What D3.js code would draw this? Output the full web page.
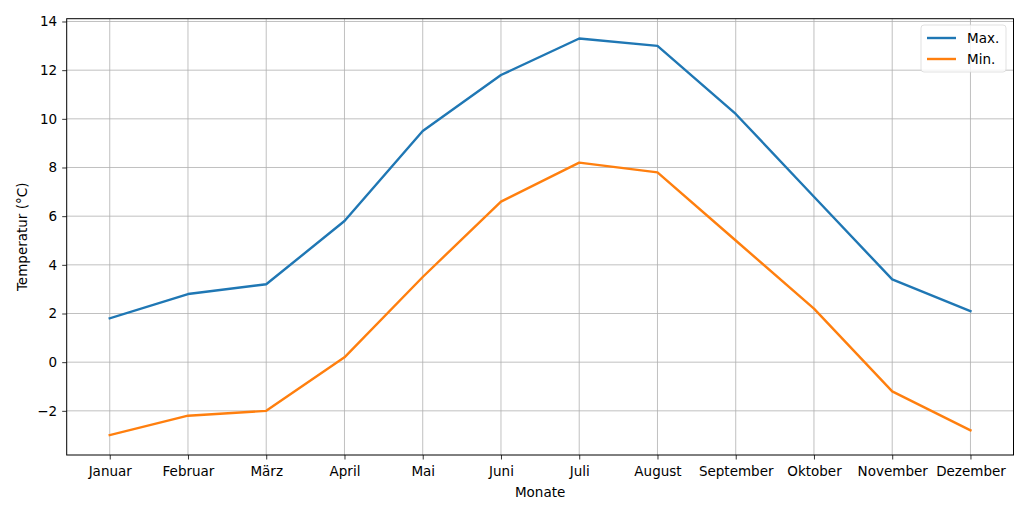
<!DOCTYPE html>
<html>
<head>
<meta charset="utf-8">
<script src="https://cdn.jsdelivr.net/npm/d3@7"></script>
<style>
  body { margin: 0; background: #fff; }
  text { font-family: "DejaVu Sans", sans-serif; fill: #000; }
</style>
</head>
<body>
<script>
var months = ["Januar", "Februar", "März", "April", "Mai", "Juni", "Juli", "August", "September", "Oktober", "November", "Dezember"];
var maxTemp = [1.8, 2.8, 3.2, 5.8, 9.5, 11.8, 13.3, 13.0, 10.2, 6.8, 3.4, 2.1];
var minTemp = [-3.0, -2.2, -2.0, 0.2, 3.5, 6.6, 8.2, 7.8, 5.0, 2.2, -1.2, -2.8];
var yTicks = [-2, 0, 2, 4, 6, 8, 10, 12, 14];

var width = 1030, height = 515;
// plot box (window.top is reserved, so use own names)
var pLeft = 66.7, pRight = 1013.5, pTop = 18.7, pBottom = 455;
var fs = 13.5;

var svg = d3.select("body").append("svg")
    .attr("width", width)
    .attr("height", height);

// matplotlib style 5% margins
var x = d3.scaleLinear()
    .domain([-0.55, months.length - 1 + 0.55])
    .range([pLeft, pRight]);

var lo = d3.min(minTemp), hi = d3.max(maxTemp), pad = (hi - lo) * 0.05;
var y = d3.scaleLinear()
    .domain([lo - pad, hi + pad])
    .range([pBottom, pTop]);

// grid
var grid = svg.append("g");
grid.selectAll(".gx").data(months).enter().append("line")
    .attr("x1", (d, i) => x(i)).attr("x2", (d, i) => x(i))
    .attr("y1", pTop).attr("y2", pBottom)
    .attr("stroke", "#b0b0b0").attr("stroke-width", 0.8);
grid.selectAll(".gy").data(yTicks).enter().append("line")
    .attr("x1", pLeft).attr("x2", pRight)
    .attr("y1", d => y(d)).attr("y2", d => y(d))
    .attr("stroke", "#b0b0b0").attr("stroke-width", 0.8);

// axes
var xAxis = d3.axisBottom(x)
    .tickValues(d3.range(months.length))
    .tickFormat(i => months[i])
    .tickSize(4.5).tickPadding(7);
var gx = svg.append("g").attr("transform", "translate(0," + pBottom + ")").call(xAxis);

var yAxis = d3.axisLeft(y)
    .tickValues(yTicks)
    .tickFormat(d => d < 0 ? "\u2212" + Math.abs(d) : d)
    .tickSize(4.5).tickPadding(5);
var gy = svg.append("g").attr("transform", "translate(" + pLeft + ",0)").call(yAxis);

[gx, gy].forEach(function (g) {
  g.select(".domain").remove();
  g.selectAll(".tick line").attr("stroke", "#000").attr("stroke-width", 0.8);
  g.selectAll(".tick text").attr("font-size", fs).attr("fill", "#000")
    .attr("font-family", "DejaVu Sans, sans-serif");
});

// lines
var line = d3.line().x((d, i) => x(i)).y(d => y(d));
var series = [
  { name: "Max.", values: maxTemp, color: "#1f77b4" },
  { name: "Min.", values: minTemp, color: "#ff7f0e" }
];
svg.selectAll(".series").data(series).enter().append("path")
    .attr("d", d => line(d.values))
    .attr("fill", "none")
    .attr("stroke", d => d.color)
    .attr("stroke-width", 2.4)
    .attr("stroke-linejoin", "round")
    .attr("stroke-linecap", "square");

// frame
svg.append("rect")
    .attr("x", pLeft).attr("y", pTop)
    .attr("width", pRight - pLeft).attr("height", pBottom - pTop)
    .attr("fill", "none").attr("stroke", "#000").attr("stroke-width", 1);

// axis labels
svg.append("text")
    .attr("x", (pLeft + pRight) / 2).attr("y", 497)
    .attr("text-anchor", "middle").attr("font-size", fs)
    .text("Monate");
svg.append("text")
    .attr("transform", "translate(27," + ((pTop + pBottom) / 2) + ") rotate(-90)")
    .attr("text-anchor", "middle").attr("font-size", fs)
    .text("Temperatur (°C)");

// legend
var lg = svg.append("g").attr("transform", "translate(921,25)");
lg.append("rect")
    .attr("width", 85).attr("height", 47).attr("rx", 3)
    .attr("fill", "#fff").attr("fill-opacity", 0.8)
    .attr("stroke", "#d9d9d9").attr("stroke-width", 0.8);
var items = lg.selectAll(".item").data(series).enter().append("g")
    .attr("transform", (d, i) => "translate(0," + (13 + i * 21) + ")");
items.append("line")
    .attr("x1", 6).attr("x2", 35)
    .attr("stroke", d => d.color).attr("stroke-width", 2.4);
items.append("text")
    .attr("x", 46).attr("dy", "0.35em").attr("font-size", fs)
    .text(d => d.name);
</script>
</body>
</html>
